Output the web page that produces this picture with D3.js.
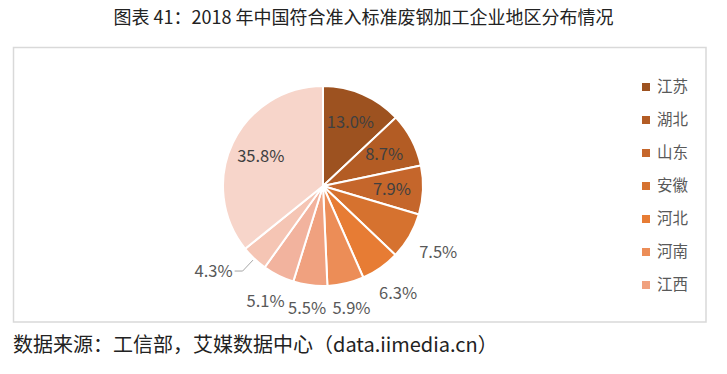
<!DOCTYPE html>
<html>
<head>
<meta charset="utf-8">
<script src="https://cdn.jsdelivr.net/npm/d3@7"></script>
<style>
  body { margin: 0; background: #fff; }
  text { font-family: "Noto Sans CJK SC", "Noto Sans", sans-serif; }
</style>
</head>
<body>
<svg></svg>
<script>
// slice values (%) clockwise from 12 o'clock
var values = [13.0, 8.7, 7.9, 7.5, 6.3, 5.9, 5.5, 5.1, 4.3, 35.8];
// legend entries visible in the picture
var legendNames = ["江苏", "湖北", "山东", "安徽", "河北", "河南", "江西"];
var colors = ["#9d5220", "#b35c24", "#c5662b", "#d6722f", "#e77c34", "#ec8d57",
              "#f0a17f", "#f2b39e", "#f5c5b4", "#f7d5ca"];

var W = 727, H = 374;
var svg = d3.select("svg").attr("width", W).attr("height", H);

// title
svg.append("text")
    .attr("x", W / 2).attr("y", 24)
    .attr("text-anchor", "middle")
    .style("font-size", "18px")
    .style("fill", "#222")
    .text("图表 41：2018 年中国符合准入标准废钢加工企业地区分布情况");

// frame
svg.append("rect")
    .attr("x", 13.5).attr("y", 47.5)
    .attr("width", 692.5).attr("height", 274.5)
    .attr("fill", "none")
    .attr("stroke", "#d9d9d9")
    .attr("stroke-width", 1.5);

// pie
var cx = 323, cy = 186, r = 100;
var g = svg.append("g").attr("transform", "translate(" + cx + "," + cy + ")");

var pie = d3.pie().sort(null).value(function(d) { return d; });
var arcs = pie(values);
var arc = d3.arc().innerRadius(0).outerRadius(r);

g.selectAll(".slice")
    .data(arcs)
  .enter().append("path")
    .attr("class", "slice")
    .attr("d", arc)
    .attr("fill", function(d, i) { return colors[i]; })
    .attr("stroke", "#fff")
    .attr("stroke-width", 2);

function mid(d) { return (d.startAngle + d.endAngle) / 2; }

// labels: big slices inside, others at outside end (box touching the rim)
g.selectAll(".lbl")
    .data(arcs)
  .enter().append("text")
    .attr("class", "lbl")
    .attr("dy", "0.35em")
    .style("font-size", "16.5px")
    .style("fill", function(d) { return d.data >= 7.9 ? "#404040" : "#595959"; })
    .text(function(d) { return d.data.toFixed(1) + "%"; })
    .each(function(d) {
      var el = d3.select(this), a = mid(d), bb = this.getBBox();
      var sx = Math.sin(a), sy = -Math.cos(a);
      if (d.data >= 7.9) {
        el.attr("text-anchor", "middle")
          .attr("x", sx * 69).attr("y", sy * 69);
      } else if (d.data < 5) {
        // leader-line label, right aligned left of the bend
        el.attr("text-anchor", "end")
          .attr("x", sx * 117 - 10).attr("y", sy * 117);
      } else {
        var rr = r + 12 + Math.abs(sx) * bb.width / 2 + Math.abs(sy) * bb.height / 2.6;
        el.attr("text-anchor", "middle")
          .attr("x", sx * rr).attr("y", sy * rr);
      }
    });

// leader lines for the smallest slices
g.selectAll(".leader")
    .data(arcs.filter(function(d) { return d.data < 5; }))
  .enter().append("polyline")
    .attr("class", "leader")
    .attr("fill", "none")
    .attr("stroke", "#a6a6a6")
    .attr("stroke-width", 1)
    .attr("points", function(d) {
      var a = mid(d);
      var p1 = [Math.sin(a) * (r + 2), -Math.cos(a) * (r + 2)];
      var p2 = [Math.sin(a) * 117, -Math.cos(a) * 117];
      var p3 = [p2[0] - 8, p2[1]];
      return [p1, p2, p3].map(function(p) { return p.join(","); }).join(" ");
    });

// legend
var lg = svg.append("g").attr("transform", "translate(642,83)");
var items = lg.selectAll(".item")
    .data(legendNames)
  .enter().append("g")
    .attr("class", "item")
    .attr("transform", function(d, i) { return "translate(0," + (i * 33) + ")"; });
items.append("rect")
    .attr("width", 8).attr("height", 8)
    .attr("fill", function(d, i) { return colors[i]; });
items.append("text")
    .attr("x", 15).attr("y", 4)
    .attr("dy", "0.35em")
    .style("font-size", "15.5px")
    .style("fill", "#595959")
    .text(function(d) { return d; });

// source
svg.append("text")
    .attr("x", 13).attr("y", 352)
    .style("font-size", "20px")
    .style("fill", "#222")
    .text("数据来源：工信部，艾媒数据中心（data.iimedia.cn）");
</script>
</body>
</html>
